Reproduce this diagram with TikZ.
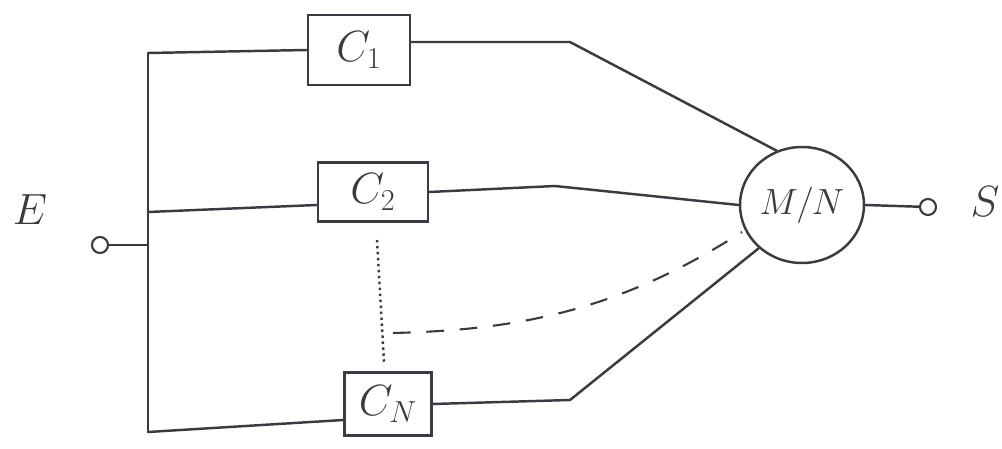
\documentclass[tikz,border=0pt]{standalone}
\usetikzlibrary{shapes.geometric}
\definecolor{ink}{HTML}{3A3A42}
\begin{document}
\begin{tikzpicture}[x=0.02cm,y=-0.02cm,
  wire/.style={draw=ink,line width=1.4pt,line cap=round,line join=round},
  cbox/.style={draw=ink,line width=1.4pt,rectangle,inner sep=0pt,font=\fontsize{24}{28}\selectfont,text=ink},
  term/.style={draw=ink,line width=1.2pt,circle,inner sep=0pt,minimum size=0.32cm},
  lbl/.style={font=\fontsize{34}{40}\selectfont,text=ink,inner sep=0pt}]
\useasboundingbox (0,0) rectangle (1002,449);
% boxes
\node[cbox,minimum width=2.04cm,minimum height=1.4cm] (c1) at (359,50) {$C_1$};
\node[cbox,minimum width=2.2cm,minimum height=1.18cm] (c2) at (373,192) {$C_2$};
\node[cbox,minimum width=1.74cm,minimum height=1.26cm] (cn) at (388,404) {$C_N$};
\node[draw=ink,line width=1.4pt,ellipse,minimum width=2.48cm,minimum height=2.32cm,inner sep=-12pt,
      font=\fontsize{22}{26}\selectfont,text=ink] (mn) at (802,205) {$M/N$};
% terminals
\node[term] (in) at (100,245) {};
\node[term] (out) at (928,207) {};
\node[lbl] (E) at (30,210) {$E$};
\node[lbl] (S) at (985,202) {$S$};
% bus
\coordinate (btop) at (148,53);
\coordinate (bmid) at (148,212);
\coordinate (bin) at (148,245);
\coordinate (bbot) at (148,432);
\draw[wire] (btop) -- (bbot);
\draw[wire] (in) -- (bin);
\draw[wire] (btop) -- (c1.west);
\draw[wire] (bmid) -- ([yshift=-0.26cm]c2.west);
\draw[wire] (bbot) -- ([yshift=-0.32cm]cn.west);
% outputs
\coordinate (k1) at (570,42);
\coordinate (k2) at (555,186);
\coordinate (k3) at (570,400);
\draw[wire] ([yshift=0.16cm]c1.east) -- (k1) -- (mn.115);
\draw[wire] (c2.east) -- (k2) -- (mn.west);
\draw[wire] (cn.east) -- (k3) -- (mn.225);
\draw[wire] (mn.east) -- (out);
% dotted and dashed
\coordinate (dtop) at (377,240);
\coordinate (dbot) at (384,362);
\draw[draw=ink,line width=1.4pt,dotted] (dtop) -- (dbot);
\coordinate (dstart) at (393,333);
\draw[draw=ink,line width=1.2pt,dash pattern=on 10pt off 9pt]
  (dstart) .. controls (520,330) and (620,310) .. (742,232);
\end{tikzpicture}
\end{document}
